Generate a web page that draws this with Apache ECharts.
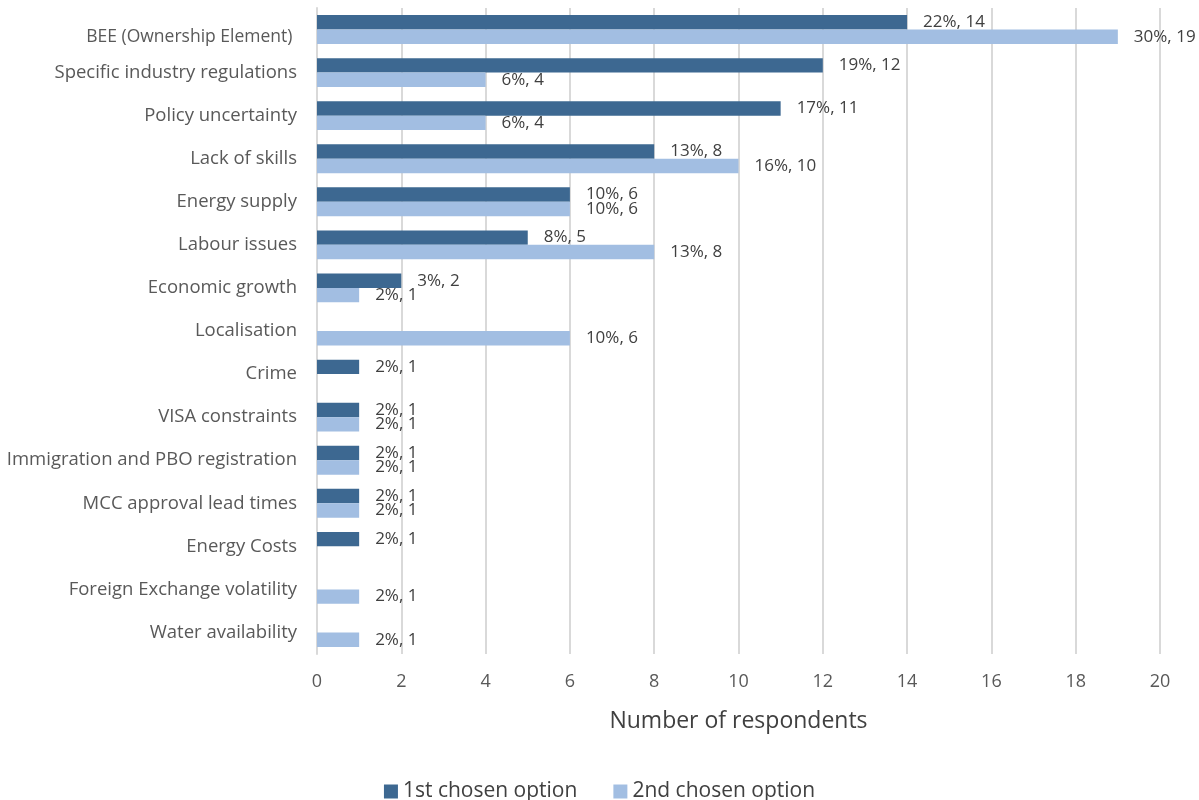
<!DOCTYPE html>
<html>
<head>
<meta charset="utf-8">
<script src="https://cdn.jsdelivr.net/npm/echarts@6/dist/echarts.min.js"></script>
<style>
  html, body { margin: 0; padding: 0; background: #fff; }
  #chart { width: 1199px; height: 800px; }
</style>
</head>
<body>
<div id="chart"></div>
<script>
// Constraints, listed top to bottom
const categories = [
  'BEE (Ownership Element) ',
  'Specific industry regulations',
  'Policy uncertainty',
  'Lack of skills',
  'Energy supply',
  'Labour issues',
  'Economic growth',
  'Localisation',
  'Crime',
  'VISA constraints',
  'Immigration and PBO registration',
  'MCC approval lead times',
  'Energy Costs',
  'Foreign Exchange volatility',
  'Water availability'
];

// Respondent counts (null = not chosen)
const firstCounts  = [14, 12, 11, 8, 6, 5, 2, null, 1, 1, 1, 1, 1, null, null];
const secondCounts = [19, 4, 4, 10, 6, 8, 1, 6, null, 1, 1, 1, null, 1, 1];

// Share of respondents, in percent
const firstPct  = [22, 19, 17, 13, 10, 8, 3, null, 2, 2, 2, 2, 2, null, null];
const secondPct = [30, 6, 6, 16, 10, 13, 2, 10, null, 2, 2, 2, null, 2, 2];

const xTicks = { min: 0, max: 20, interval: 2 };

const FONT = '"Open Sans", Lato, sans-serif';
const DARK = '#3d6891';
const LIGHT = '#a2bee2';

function labelFor(pcts) {
  return {
    show: true,
    position: 'right',
    distance: 16,
    color: '#404040',
    fontFamily: FONT,
    fontSize: 17,
    formatter: p => pcts[p.dataIndex] + '%, ' + p.value
  };
}

// The first category label is set a touch smaller and lower than the rest
const categoryData = categories.map((c, i) =>
  i === 0 ? { value: c, textStyle: { verticalAlign: 'top', fontSize: 17.5, padding: [-2, 0, 0, 0] } } : c
);

const chart = echarts.init(document.getElementById('chart'));
chart.setOption({
  animation: false,
  textStyle: { fontFamily: FONT },
  grid: { left: 317, right: 39, top: 8, bottom: 146, containLabel: false },
  xAxis: {
    type: 'value',
    min: xTicks.min, max: xTicks.max, interval: xTicks.interval,
    name: 'Number of respondents',
    nameLocation: 'middle',
    nameGap: 56,
    nameTextStyle: { fontSize: 23, color: '#404040', fontFamily: FONT },
    axisLine: { show: false },
    axisTick: { show: false },
    axisLabel: { fontSize: 18, color: '#595959', margin: 19, fontFamily: FONT },
    splitLine: { show: true, lineStyle: { color: '#d9d9d9', width: 2 } }
  },
  yAxis: {
    type: 'category',
    data: categoryData,
    inverse: true,
    axisLine: { show: true, lineStyle: { color: '#d9d9d9', width: 2 } },
    axisTick: { show: false },
    axisLabel: { fontSize: 18.5, color: '#595959', margin: 20, fontFamily: FONT }
  },
  legend: {
    bottom: -7,
    left: 'center',
    itemWidth: 14,
    itemHeight: 14,
    itemGap: 36,
    icon: 'rect',
    textStyle: { fontSize: 21, color: '#404040', fontFamily: FONT },
    data: ['1st chosen option', '2nd chosen option']
  },
  series: [
    {
      name: '1st chosen option',
      type: 'bar',
      data: firstCounts,
      itemStyle: { color: DARK },
      barGap: '0%',
      barCategoryGap: '33%',
      label: labelFor(firstPct)
    },
    {
      name: '2nd chosen option',
      type: 'bar',
      data: secondCounts,
      itemStyle: { color: LIGHT },
      barGap: '0%',
      barCategoryGap: '33%',
      label: labelFor(secondPct)
    }
  ]
});
</script>
</body>
</html>
